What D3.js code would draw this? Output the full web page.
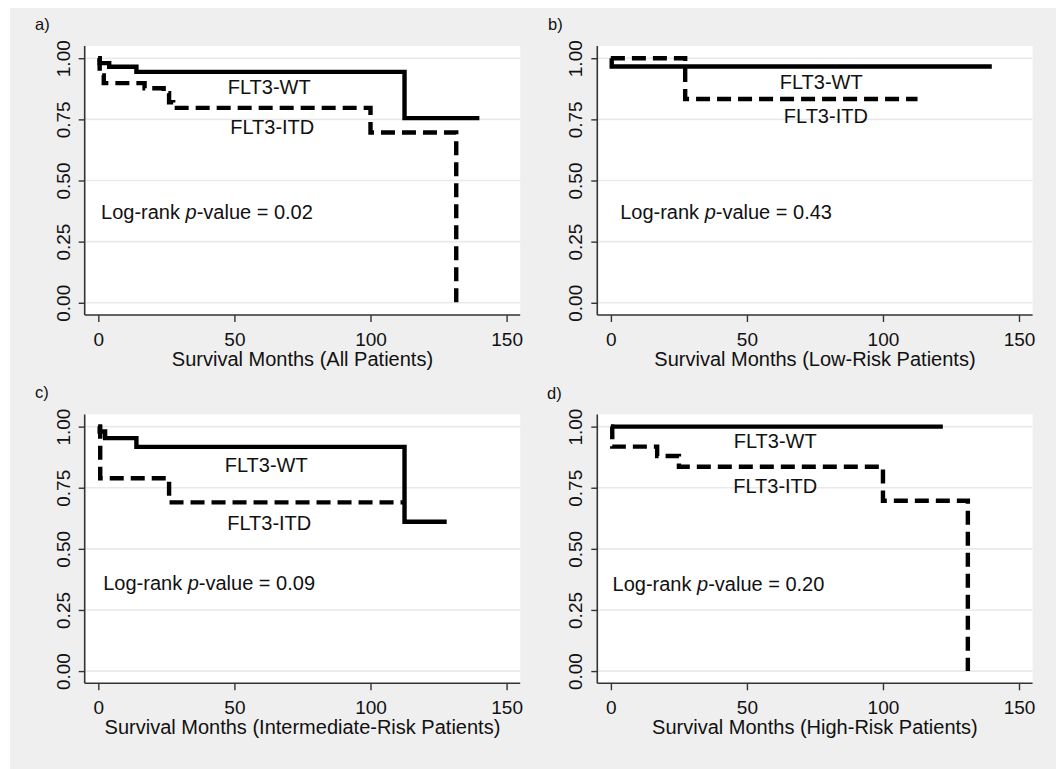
<!DOCTYPE html>
<html>
<head>
<meta charset="utf-8">
<script src="https://cdn.jsdelivr.net/npm/d3@7"></script>
<style>
  html, body { margin: 0; padding: 0; background: #ffffff; }
  svg { display: block; }
  text { font-family: "Liberation Sans", Arial, Helvetica, sans-serif; fill: #111111; }
</style>
</head>
<body>
<svg id="chart" width="1056" height="769"></svg>
<script>
// ---------------- DATA ----------------
const xTicks = [0, 50, 100, 150];
const yTicks = [0, 0.25, 0.5, 0.75, 1];
const yTickLabels = ["0.00", "0.25", "0.50", "0.75", "1.00"];
const panelLabels = ["a)", "b)", "c)", "d)"];
const xTitles = [
  "Survival Months (All Patients)",
  "Survival Months (Low-Risk Patients)",
  "Survival Months (Intermediate-Risk Patients)",
  "Survival Months (High-Risk Patients)"
];
const pValues = ["0.02", "0.43", "0.09", "0.20"];
const seriesNames = ["FLT3-WT", "FLT3-ITD"];

// Kaplan-Meier step curves (time in months, survival probability)
const aWtTime  = [0, 0.5, 4, 14, 112.5];
const aWtSurv  = [1, 0.98, 0.965, 0.944, 0.755];
const aWtEnd   = 140;
const aItdTime = [0, 0.5, 2, 17, 24, 26, 27.5, 100, 131.5];
const aItdSurv = [1, 0.93, 0.898, 0.877, 0.857, 0.82, 0.797, 0.696, 0];
const aItdEnd  = 131.5;

const bWtTime  = [0, 0.3];
const bWtSurv  = [1, 0.966];
const bWtEnd   = 140;
const bItdTime = [0, 27.3];
const bItdSurv = [1, 0.833];
const bItdEnd  = 112.7;

const cWtTime  = [0, 0.5, 2.5, 14, 112.5];
const cWtSurv  = [1, 0.98, 0.953, 0.917, 0.611];
const cWtEnd   = 128;
const cItdTime = [0, 0.7, 26];
const cItdSurv = [1, 0.789, 0.69];
const cItdEnd  = 113;

const dWtTime  = [0];
const dWtSurv  = [1];
const dWtEnd   = 122;
const dItdTime = [0, 0.5, 17, 25, 100, 131.2];
const dItdSurv = [1, 0.918, 0.88, 0.836, 0.697, 0];
const dItdEnd  = 131.2;

// ---------------- LAYOUT ----------------
const panels = [
  { x0: 84.7,  x1: 520.2,  y0: 46,    y1: 315,   lx: 35,  ly: 29.5,
    wt: [aWtTime, aWtSurv, aWtEnd], itd: [aItdTime, aItdSurv, aItdEnd],
    wtLab: [62.8, 0.884], itdLab: [63.9, 0.72], pLab: [1.0, 0.372] },
  { x0: 597.3, x1: 1032.6, y0: 46,    y1: 315,   lx: 548, ly: 29.5,
    wt: [bWtTime, bWtSurv, bWtEnd], itd: [bItdTime, bItdSurv, bItdEnd],
    wtLab: [77.3, 0.904], itdLab: [79.0, 0.764], pLab: [3.4, 0.37] },
  { x0: 84.7,  x1: 520.2,  y0: 414.4, y1: 683.3, lx: 35,  ly: 397.5,
    wt: [cWtTime, cWtSurv, cWtEnd], itd: [cItdTime, cItdSurv, cItdEnd],
    wtLab: [61.7, 0.843], itdLab: [62.8, 0.605], pLab: [1.8, 0.363] },
  { x0: 597.3, x1: 1032.6, y0: 414.4, y1: 683.3, lx: 547, ly: 398.5,
    wt: [dWtTime, dWtSurv, dWtEnd], itd: [dItdTime, dItdSurv, dItdEnd],
    wtLab: [60.4, 0.943], itdLab: [60.4, 0.758], pLab: [0.6, 0.359] }
];

const svg = d3.select("#chart");

// outer background
svg.append("rect").attr("x", 10).attr("y", 8).attr("width", 1046).attr("height", 761)
  .attr("fill", "#efefef");

function stepPoints(times, surv, end) {
  const pts = times.map((t, i) => [t, surv[i]]);
  pts.push([end, surv[surv.length - 1]]);
  return pts;
}

panels.forEach((p, i) => {
  const x = d3.scaleLinear().domain([-5, 155]).range([p.x0, p.x1]);
  const y = d3.scaleLinear().domain([-0.05, 1.05]).range([p.y1, p.y0]);
  const g = svg.append("g");

  // plot area
  g.append("rect").attr("x", p.x0).attr("y", p.y0)
    .attr("width", p.x1 - p.x0).attr("height", p.y1 - p.y0).attr("fill", "#ffffff");

  // gridlines
  g.selectAll(".grid").data(yTicks).enter().append("line")
    .attr("x1", p.x0).attr("x2", p.x1)
    .attr("y1", d => y(d)).attr("y2", d => y(d))
    .attr("stroke", "#e9e9e9").attr("stroke-width", 1.6);

  // y axis
  const yAxis = d3.axisLeft(y).tickValues(yTicks).tickSize(6).tickFormat((d, k) => yTickLabels[k]);
  const ya = g.append("g").attr("transform", `translate(${p.x0},0)`).call(yAxis);
  ya.select(".domain").attr("stroke", "#333333").attr("stroke-width", 1.6)
    .attr("d", `M0,${p.y0}V${p.y1}`);
  ya.selectAll(".tick line").attr("stroke", "#333333").attr("stroke-width", 1.4);
  ya.selectAll(".tick text")
    .attr("x", null).attr("dy", null)
    .attr("transform", "translate(-15,0) rotate(-90)")
    .attr("text-anchor", "middle")
    .attr("font-size", "19px")
    .attr("font-family", '"Liberation Sans", Arial, sans-serif')
    .attr("fill", "#111111");

  // x axis
  const xAxis = d3.axisBottom(x).tickValues(xTicks).tickSize(7).tickFormat(d3.format("d"));
  const xa = g.append("g").attr("transform", `translate(0,${p.y1})`).call(xAxis);
  xa.select(".domain").attr("stroke", "#333333").attr("stroke-width", 1.6)
    .attr("d", `M${p.x0},0H${p.x1}`);
  xa.selectAll(".tick line").attr("stroke", "#333333").attr("stroke-width", 1.4);
  xa.selectAll(".tick text")
    .attr("y", 31).attr("dy", null)
    .attr("font-size", "19px")
    .attr("font-family", '"Liberation Sans", Arial, sans-serif')
    .attr("fill", "#111111");

  // x axis title
  g.append("text").attr("x", (p.x0 + p.x1) / 2).attr("y", p.y1 + 51)
    .attr("text-anchor", "middle").attr("font-size", "20px").text(xTitles[i]);

  // panel label
  g.append("text").attr("x", p.lx).attr("y", p.ly).attr("font-size", "16.5px").text(panelLabels[i]);

  // curves
  const line = d3.line().x(d => x(d[0])).y(d => y(d[1])).curve(d3.curveStepAfter);
  g.append("path").datum(stepPoints(...p.itd)).attr("d", line)
    .attr("fill", "none").attr("stroke", "#000").attr("stroke-width", 4.4)
    .attr("stroke-dasharray", "14,7");
  g.append("path").datum(stepPoints(...p.wt)).attr("d", line)
    .attr("fill", "none").attr("stroke", "#000").attr("stroke-width", 4.4);

  // curve labels
  g.append("text").attr("x", x(p.wtLab[0])).attr("y", y(p.wtLab[1])).attr("dy", "0.36em")
    .attr("text-anchor", "middle").attr("font-size", "20px").text(seriesNames[0]);
  g.append("text").attr("x", x(p.itdLab[0])).attr("y", y(p.itdLab[1])).attr("dy", "0.36em")
    .attr("text-anchor", "middle").attr("font-size", "20px").text(seriesNames[1]);

  // log-rank text
  const t = g.append("text").attr("x", x(p.pLab[0])).attr("y", y(p.pLab[1])).attr("dy", "0.36em")
    .attr("font-size", "20px");
  t.append("tspan").text("Log-rank ");
  t.append("tspan").attr("font-style", "italic").text("p");
  t.append("tspan").text("-value = " + pValues[i]);
});
</script>
</body>
</html>
